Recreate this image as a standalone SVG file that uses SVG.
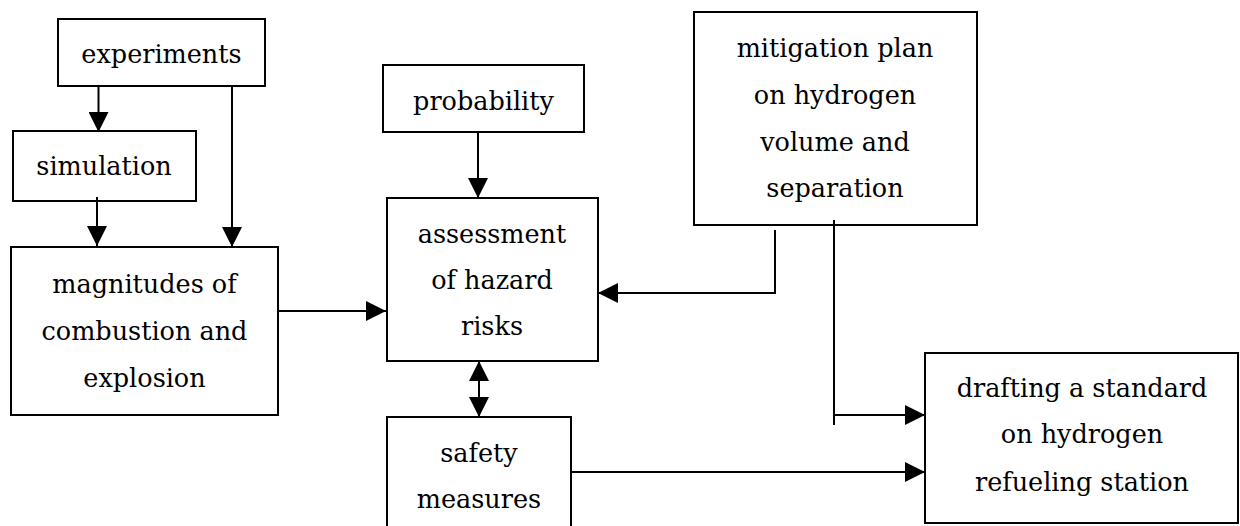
<svg xmlns="http://www.w3.org/2000/svg" width="1240" height="526" viewBox="0 0 1240 526">
<style>
.box{fill:#fff;stroke:#000;stroke-width:2}
.t{font-family:"DejaVu Serif","Liberation Serif",serif;font-size:25.5px;fill:#000;text-anchor:middle}
.c{fill:none;stroke:#000;stroke-width:2}
</style>
<defs>
<marker id="ah" viewBox="0 0 20 20" refX="20" refY="10" markerWidth="20" markerHeight="20" markerUnits="userSpaceOnUse" orient="auto-start-reverse">
<path d="M0,0 L20,10 L0,20 z" fill="#000"/>
</marker>
</defs>
<rect width="1240" height="526" fill="#fff"/>
<g id="experiments"><rect class="box" x="58" y="19" width="207" height="67"/><text class="t" x="161.5" y="63">experiments</text></g>
<g id="simulation"><rect class="box" x="13" y="131" width="183" height="70"/><text class="t" x="104" y="175">simulation</text></g>
<g id="magnitudes"><rect class="box" x="11" y="247" width="267" height="168"/><text class="t" x="144.5" y="293">magnitudes of</text><text class="t" x="144.5" y="340">combustion and</text><text class="t" x="144.5" y="387">explosion</text></g>
<g id="probability"><rect class="box" x="383" y="65" width="201" height="67"/><text class="t" x="483.5" y="110">probability</text></g>
<g id="assessment"><rect class="box" x="387" y="198" width="211" height="163"/><text class="t" x="492" y="243">assessment</text><text class="t" x="492" y="289">of hazard</text><text class="t" x="492" y="335">risks</text></g>
<g id="safety"><rect class="box" x="387" y="417" width="184" height="115"/><text class="t" x="479" y="462">safety</text><text class="t" x="479" y="508">measures</text></g>
<g id="mitigation"><rect class="box" x="694" y="12" width="283" height="213"/><text class="t" x="835" y="57">mitigation plan</text><text class="t" x="835" y="104">on hydrogen</text><text class="t" x="835" y="151">volume and</text><text class="t" x="835" y="197">separation</text></g>
<g id="drafting"><rect class="box" x="925" y="353" width="313" height="170"/><text class="t" x="1082" y="397">drafting a standard</text><text class="t" x="1082" y="443">on hydrogen</text><text class="t" x="1082" y="491">refueling station</text></g>
<g id="connectors">
<path class="c" d="M98.5,86 V132" marker-end="url(#ah)"/>
<path class="c" d="M232,86 V247" marker-end="url(#ah)"/>
<path class="c" d="M97,197 V246" marker-end="url(#ah)"/>
<path class="c" d="M278,311 H386" marker-end="url(#ah)"/>
<path class="c" d="M478,132 V198" marker-end="url(#ah)"/>
<path class="c" d="M479,361 V417" marker-start="url(#ah)" marker-end="url(#ah)"/>
<path class="c" d="M775,230 V293 H598" marker-end="url(#ah)"/>
<path class="c" d="M834,220 V425"/>
<path class="c" d="M834,415 H925" marker-end="url(#ah)"/>
<path class="c" d="M571,472 H925" marker-end="url(#ah)"/>
</g>
</svg>
